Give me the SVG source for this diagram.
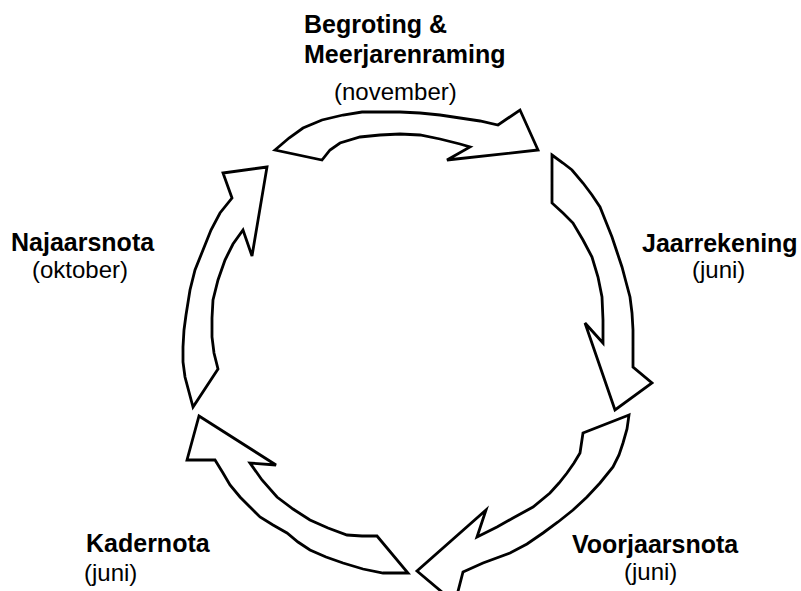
<svg xmlns="http://www.w3.org/2000/svg" width="801" height="591" viewBox="0 0 801 591">
<style>
.arrow{fill:#fff;stroke:#000;stroke-width:2.8;stroke-linejoin:miter}
.b{font-family:"Liberation Sans",Arial,sans-serif;font-weight:bold;font-size:25px;fill:#000}
.r{font-family:"Liberation Sans",Arial,sans-serif;font-size:24px;fill:#000}
</style>
<rect width="801" height="591" fill="#fff"/>
<g id="connectors">
<polygon id="arrow-top" class="arrow" points="275,150 289,138 303,128 322,120 343,115 362,112 380,112 400,112 420,113 440,115 460,118 480,121 498,125 520,110 538,150 447,160 470,147 460,144 440,139 420,135 400,134 380,135 360,137 340,143 330,150 322,160"/>
<polygon id="arrow-right" class="arrow" points="552,155 563,163 572,170 583,183 592,195 600,207 606,222 612,237 617,252 622,267 626,282 630,297 632,313 633,330 633,348 633,367 652,383 615,410 585,323 603,343 603,320 602,297 598,277 592,257 583,240 573,223 563,213 552,203"/>
<polygon id="arrow-bottom-right" class="arrow" points="629,415 583,433 580,453 574,463 567,473 559,483 550,493 533,507 513,518 497,527 477,537 486,510 417,571 455,603 463,572 483,563 510,553 527,544 543,533 558,522 573,510 587,497 600,483 613,467 619,455 623,443 627,429"/>
<polygon id="arrow-bottom-left" class="arrow" points="199,416 276,465 250,463 262,480 277,497 293,509 310,520 328,528 347,535 362,536 377,536 408,573 383,573 363,569 343,563 326,557 310,550 298,542 287,533 273,525 260,517 250,507 240,497 230,485 223,473 215,460 187,460"/>
<polygon id="arrow-left" class="arrow" points="193,407 185,377 183,362 183,347 184,330 186,315 190,290 195,270 203,250 211,230 220,213 232,198 223,173 267,167 252,256 243,230 233,244 225,260 218,280 213,300 212,318 212,337 214,353 218,369"/>
</g>
<g id="node-begroting">
<text class="b" x="304" y="33">Begroting &amp;</text>
<text class="b" x="304" y="63">Meerjarenraming</text>
<text class="r" x="334" y="100">(november)</text>
</g>
<g id="node-jaarrekening">
<text class="b" x="642" y="252">Jaarrekening</text>
<text class="r" x="692" y="278">(juni)</text>
</g>
<g id="node-voorjaarsnota">
<text class="b" x="572" y="553">Voorjaarsnota</text>
<text class="r" x="624" y="580">(juni)</text>
</g>
<g id="node-kadernota">
<text class="b" x="86" y="552">Kadernota</text>
<text class="r" x="84" y="581">(juni)</text>
</g>
<g id="node-najaarsnota">
<text class="b" x="11" y="251">Najaarsnota</text>
<text class="r" x="32" y="278">(oktober)</text>
</g>
</svg>
